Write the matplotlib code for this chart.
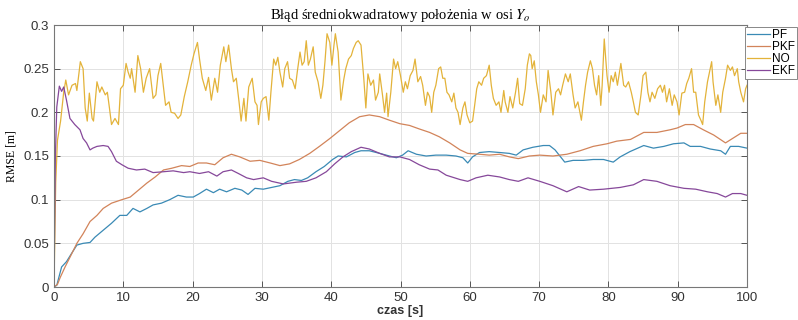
import matplotlib
matplotlib.use("Agg")
import matplotlib.pyplot as plt

plt.rcParams['mathtext.fontset'] = 'stix'

# czas [s] i wartości RMSE
no_t = [0, 0.25, 0.5, 0.95, 1.4, 1.7, 2.1, 2.6, 3.1, 3.3, 3.8, 4.2, 4.5, 4.8, 5.1, 5.5, 5.7, 6.2, 6.6, 6.9,
        7.4, 7.7, 8.0, 8.3, 8.8, 9.3, 9.6, 10, 10.4, 10.7, 11, 11.2, 11.7, 12.1, 12.5, 12.9, 13.3, 13.8,
        14.3, 14.7, 15, 15.4, 15.7, 16.1, 16.6, 16.9, 17.4, 17.9, 18.3, 18.8, 19.3, 19.8, 20.2, 20.7, 21,
        21.4, 21.9, 22.3, 22.7, 23.2, 23.6, 24, 24.5, 24.8, 25.2, 25.6, 25.9, 26.3, 26.7, 27, 27.4, 27.7,
        28.1, 28.6, 29, 29.3, 29.5, 29.9, 30.2, 30.6, 31, 31.3, 31.7, 32, 32.3, 32.6, 33, 33.3, 33.7, 34,
        34.4, 34.8, 35.1, 35.5, 35.8, 36.1, 36.4, 36.7, 37, 37.4, 37.7, 38.1, 38.5, 38.8, 39.1, 39.4, 39.8,
        40.1, 40.4, 40.6, 41, 41.2, 41.4, 41.8, 42.1, 42.5, 42.9, 43.2, 43.6, 43.9, 44.3, 44.7, 45, 45.3,
        45.7, 46.1, 46.4, 46.8, 47, 47.4, 47.7, 48, 48.2, 48.6, 49, 49.3, 49.6, 50, 50.4, 50.7, 51, 51.4,
        51.8, 52.1, 52.5, 52.9, 53.2, 53.6, 53.9, 54.2, 54.5, 54.8, 55.1, 55.5, 55.8, 56.1, 56.4, 56.7, 57,
        57.4, 57.7, 58, 58.3, 58.6, 59, 59.3, 59.6, 60, 60.4, 60.7, 61, 61.3, 61.7, 62, 62.4, 62.8, 63.1,
        63.4, 63.8, 64.2, 64.5, 64.9, 65.1, 65.5, 65.8, 66.2, 66.6, 66.9, 67.2, 67.6, 68, 68.3, 68.6, 68.8,
        69, 69.3, 69.6, 69.9, 70.2, 70.6, 71, 71.3, 71.7, 72, 72.4, 72.8, 73.1, 73.4, 73.8, 74.2, 74.5,
        74.9, 75.2, 75.6, 76.1, 76.4, 76.7, 77, 77.4, 77.7, 78, 78.3, 78.6, 78.9, 79.1, 79.4, 79.8, 80.1,
        80.4, 80.7, 81, 81.3, 81.8, 82.2, 82.5, 82.9, 83.3, 83.6, 83.9, 84.3, 84.7, 85, 85.4, 85.7, 86,
        86.3, 86.7, 87.1, 87.5, 87.8, 88.1, 88.4, 88.8, 89.2, 89.5, 89.9, 90.2, 90.6, 91, 91.3, 91.6, 92,
        92.3, 92.6, 93, 93.4, 93.6, 93.9, 94.3, 94.7, 94.9, 95.1, 95.5, 95.8, 96.2, 96.5, 96.9, 97.2, 97.6,
        97.9, 98.2, 98.6, 98.8, 99.1, 99.5, 99.8, 100]
no_v = [0, 0.12, 0.168, 0.19, 0.223, 0.237, 0.22, 0.231, 0.233, 0.225, 0.258, 0.25, 0.205, 0.19, 0.222,
        0.193, 0.19, 0.235, 0.223, 0.229, 0.22, 0.223, 0.205, 0.186, 0.193, 0.186, 0.227, 0.231, 0.256,
        0.246, 0.239, 0.25, 0.223, 0.265, 0.25, 0.223, 0.239, 0.25, 0.216, 0.22, 0.242, 0.256, 0.235, 0.208,
        0.212, 0.2, 0.199, 0.193, 0.197, 0.218, 0.235, 0.254, 0.267, 0.28, 0.261, 0.239, 0.225, 0.24, 0.214,
        0.239, 0.223, 0.254, 0.275, 0.258, 0.277, 0.25, 0.235, 0.239, 0.212, 0.19, 0.216, 0.19, 0.229,
        0.239, 0.212, 0.208, 0.186, 0.212, 0.216, 0.218, 0.191, 0.223, 0.261, 0.254, 0.263, 0.246, 0.229,
        0.25, 0.258, 0.239, 0.237, 0.227, 0.246, 0.269, 0.254, 0.258, 0.282, 0.254, 0.261, 0.275, 0.246,
        0.235, 0.216, 0.231, 0.258, 0.29, 0.28, 0.254, 0.277, 0.29, 0.269, 0.242, 0.214, 0.237, 0.25, 0.261,
        0.265, 0.273, 0.28, 0.282, 0.277, 0.239, 0.205, 0.244, 0.231, 0.237, 0.214, 0.223, 0.244, 0.22, 0.2,
        0.222, 0.195, 0.223, 0.261, 0.25, 0.258, 0.242, 0.223, 0.235, 0.227, 0.242, 0.248, 0.261, 0.235,
        0.241, 0.231, 0.208, 0.223, 0.218, 0.2, 0.223, 0.231, 0.25, 0.252, 0.239, 0.239, 0.223, 0.22, 0.212,
        0.222, 0.205, 0.2, 0.186, 0.205, 0.212, 0.197, 0.188, 0.19, 0.208, 0.227, 0.235, 0.231, 0.239,
        0.242, 0.254, 0.231, 0.216, 0.208, 0.212, 0.2, 0.225, 0.212, 0.2, 0.218, 0.205, 0.223, 0.239, 0.21,
        0.208, 0.227, 0.254, 0.267, 0.265, 0.25, 0.259, 0.235, 0.22, 0.2, 0.22, 0.212, 0.248, 0.223, 0.197,
        0.223, 0.227, 0.22, 0.231, 0.244, 0.235, 0.244, 0.22, 0.205, 0.212, 0.191, 0.212, 0.231, 0.246,
        0.259, 0.25, 0.231, 0.22, 0.242, 0.208, 0.231, 0.284, 0.242, 0.223, 0.242, 0.235, 0.246, 0.231,
        0.256, 0.231, 0.229, 0.235, 0.223, 0.212, 0.2, 0.197, 0.22, 0.242, 0.246, 0.223, 0.212, 0.223,
        0.216, 0.227, 0.231, 0.223, 0.231, 0.212, 0.227, 0.208, 0.22, 0.212, 0.197, 0.222, 0.223, 0.233,
        0.239, 0.25, 0.223, 0.223, 0.197, 0.19, 0.186, 0.212, 0.235, 0.25, 0.258, 0.235, 0.208, 0.22, 0.2,
        0.223, 0.239, 0.254, 0.248, 0.252, 0.242, 0.25, 0.235, 0.223, 0.212, 0.227, 0.231]

ekf_t = [0, 0.2, 0.4, 0.77, 1.1, 1.4, 1.8, 2.3, 3, 3.75, 4.2, 4.7, 5.2, 5.6, 6.2, 7.1, 7.8, 8.3, 9, 9.8,
         10.7, 11.9, 13.1, 14.3, 15.8, 17.2, 18.7, 19.6, 21, 22.3, 23.5, 24.4, 25.6, 26.6, 27.8, 28.8, 30.2,
         31.4, 33.1, 35, 36.4, 37.8, 39.3, 40.5, 41.7, 42.9, 44.3, 45.5, 47, 48.4, 49.9, 51.3, 52.7, 54.2,
         55.4, 56.6, 58.6, 59.7, 60.9, 62.6, 64.3, 65.7, 67, 68.4, 70.1, 72, 74, 75.7, 77.3, 79.3, 81.7,
         83.6, 85.1, 87, 88.9, 90.9, 92.6, 94.3, 95.7, 96.9, 97.9, 99.1, 100]
ekf_v = [0, 0.15, 0.206, 0.23, 0.224, 0.229, 0.214, 0.193, 0.186, 0.18, 0.17, 0.165, 0.157, 0.159, 0.161,
         0.162, 0.161, 0.155, 0.144, 0.14, 0.136, 0.134, 0.135, 0.131, 0.132, 0.133, 0.131, 0.132, 0.13,
         0.132, 0.127, 0.132, 0.134, 0.13, 0.125, 0.123, 0.125, 0.121, 0.118, 0.12, 0.121, 0.125, 0.132,
         0.141, 0.149, 0.155, 0.16, 0.158, 0.153, 0.149, 0.149, 0.146, 0.14, 0.135, 0.134, 0.128, 0.123,
         0.121, 0.125, 0.128, 0.126, 0.123, 0.121, 0.125, 0.121, 0.116, 0.109, 0.115, 0.111, 0.112, 0.114,
         0.117, 0.123, 0.121, 0.116, 0.113, 0.112, 0.109, 0.107, 0.103, 0.107, 0.107, 0.105]

pkf_t = [0, 0.5, 0.9, 1.6, 2.3, 3.3, 4.2, 5.2, 6.2, 7.1, 8.3, 9.8, 11, 12.2, 13.4, 14.6, 15.8, 17, 18.4,
         19.6, 20.8, 22, 23.2, 24.4, 25.6, 26.8, 28.3, 29.7, 31.2, 32.6, 34, 35.4, 36.9, 38.3, 39.8, 41.2,
         42.6, 44.1, 45.5, 47, 48.4, 49.9, 51.3, 52.7, 54.2, 55.6, 57.1, 58.6, 59.7, 61.4, 62.8, 64.3, 65.7,
         67, 68.6, 70.1, 72, 74, 75.9, 77.8, 79.8, 81.2, 83.2, 85.1, 87, 88.9, 89.9, 91.1, 92.3, 93.7, 95.2,
         96.9, 98.1, 99.1, 100]
pkf_v = [0, 0.003, 0.011, 0.023, 0.034, 0.05, 0.061, 0.075, 0.082, 0.09, 0.096, 0.1, 0.103, 0.111, 0.119,
         0.126, 0.134, 0.136, 0.139, 0.138, 0.142, 0.142, 0.14, 0.148, 0.152, 0.149, 0.144, 0.145, 0.142,
         0.139, 0.141, 0.146, 0.153, 0.161, 0.17, 0.179, 0.188, 0.195, 0.197, 0.195, 0.191, 0.187, 0.185,
         0.181, 0.177, 0.172, 0.165, 0.157, 0.153, 0.152, 0.151, 0.152, 0.149, 0.147, 0.15, 0.151, 0.15,
         0.152, 0.156, 0.161, 0.164, 0.167, 0.169, 0.177, 0.177, 0.18, 0.182, 0.186, 0.186, 0.18, 0.174,
         0.165, 0.171, 0.176, 0.176]

pf_t = [0, 0.4, 1.1, 1.8, 2.5, 3.3, 4.2, 5.2, 5.9, 7.1, 8.3, 9.5, 10.5, 11.4, 12.4, 13.4, 14.3, 15.5, 16.7,
        17.9, 19.1, 20.1, 21, 22, 23, 23.9, 24.9, 26.1, 27.1, 28, 29, 30.2, 31.4, 32.6, 33.75, 34.7, 35.7,
        36.6, 37.8, 39, 40.2, 41, 42.2, 43.4, 44.3, 45.5, 47, 48.4, 49.4, 50.3, 51.1, 52.3, 53.7, 55.1,
        56.6, 58, 59, 59.7, 60.4, 61.4, 62.8, 64.3, 65.7, 66.7, 67.7, 69.1, 70.6, 71.5, 72.3, 73, 73.7,
        74.9, 76.4, 77.8, 79.3, 80.7, 81.7, 83.1, 85.1, 86.5, 88, 89.4, 90.9, 91.8, 93.3, 94.7, 96.2, 96.9,
        97.6, 98.8, 100]
pf_v = [0, 0.002, 0.023, 0.029, 0.038, 0.048, 0.05, 0.051, 0.057, 0.065, 0.073, 0.082, 0.082, 0.09, 0.086,
        0.09, 0.094, 0.096, 0.1, 0.105, 0.103, 0.103, 0.107, 0.112, 0.108, 0.112, 0.109, 0.113, 0.111,
        0.106, 0.113, 0.112, 0.114, 0.116, 0.121, 0.123, 0.122, 0.125, 0.132, 0.138, 0.146, 0.15, 0.149,
        0.154, 0.156, 0.156, 0.153, 0.15, 0.148, 0.151, 0.156, 0.152, 0.15, 0.151, 0.151, 0.15, 0.148,
        0.142, 0.149, 0.154, 0.155, 0.154, 0.153, 0.151, 0.157, 0.16, 0.162, 0.162, 0.157, 0.15, 0.143,
        0.145, 0.145, 0.146, 0.146, 0.143, 0.149, 0.155, 0.162, 0.159, 0.161, 0.164, 0.165, 0.161, 0.161,
        0.158, 0.156, 0.152, 0.161, 0.161, 0.159]

fig = plt.figure(figsize=(7.98, 3.2), dpi=100)
ax = fig.add_axes([54/798, 1-287/320, (747-54)/798, (287-25)/320])

ax.plot(pf_t, pf_v, color='#3a8ab5', lw=0.9, label='PF')
ax.plot(pkf_t, pkf_v, color='#d2845a', lw=0.9, label='PKF')
ax.plot(no_t, no_v, color='#e3b33a', lw=0.9, label='NO')
ax.plot(ekf_t, ekf_v, color='#86489a', lw=0.9, label='EKF')

ax.set_xlim(0, 100)
ax.set_ylim(0, 0.3)
ax.set_xticks(range(0, 101, 10))
ax.set_yticks([0, 0.05, 0.1, 0.15, 0.2, 0.25, 0.3])
ax.set_yticklabels(['0', '0.05', '0.1', '0.15', '0.2', '0.25', '0.3'])
ax.grid(True, color='#e2e2e2', lw=0.7)
ax.tick_params(direction='in', top=True, right=True, length=4, width=0.7,
               labelsize=9.5, colors='#555555', labelcolor='#333333')
for lab in ax.get_xticklabels() + ax.get_yticklabels():
    lab.set_family('Liberation Sans')
for s in ax.spines.values():
    s.set_color('#777777')
    s.set_linewidth(0.8)

ax.set_title(r'Błąd średniokwadratowy położenia w osi $Y_o$', family='Liberation Serif',
             fontsize=10.5, pad=4)
ax.set_xlabel('czas [s]', family='Liberation Sans', fontweight='bold', fontsize=9, labelpad=1,
              color='#333333')
ax.set_ylabel('RMSE [m]', family='Liberation Serif', fontsize=8.5, labelpad=4)

# legenda wystaje poza prawy brzeg osi, jak w oryginale
leg = ax.legend(loc='upper left', bbox_to_anchor=(745/798, 1-27/320), bbox_transform=fig.transFigure,
                fancybox=False, framealpha=1, edgecolor='#888888',
                prop={'family': 'Liberation Sans', 'size': 8.5}, borderpad=0.15,
                labelspacing=0.0, handlelength=2.0, handletextpad=0.15, borderaxespad=0)
leg.get_frame().set_linewidth(0.7)

fig.savefig('out.png', dpi=100)
